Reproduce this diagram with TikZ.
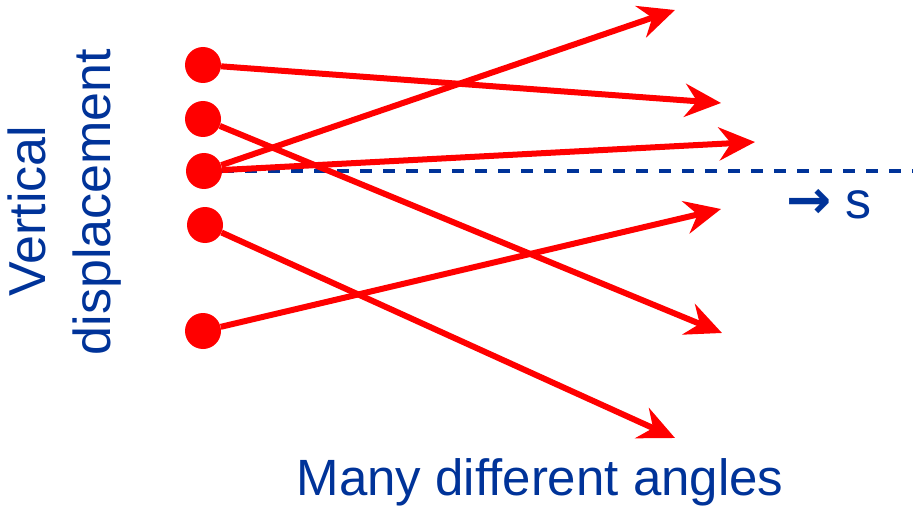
\documentclass[tikz,border=0pt]{standalone}
\usepackage{fontspec}
\setmainfont{Liberation Sans}
\newfontfamily\arrowfont{DejaVu Sans}
\usepackage{xcolor}
\usetikzlibrary{arrows.meta}
\definecolor{dblue}{RGB}{0,51,153}
\tikzset{ray/.style={draw=#1},
  lbl/.style={text=dblue,inner sep=0,font=\fontsize{52}{60}\selectfont}
}

\begin{document}
\begin{tikzpicture}[x=1pt,y=-1pt]
  \useasboundingbox (0,0) rectangle (913,508);
  \begin{scope}[every node/.style={circle,fill=red,inner sep=0,minimum size=36pt}]
    \node (D1) at (203,65) {};
    \node (D2) at (203,119) {};
    \node (D3) at (204,171) {};
    \node (D4) at (205,225) {};
    \node (D5) at (203,331) {};
  \end{scope}
  % where the rays end
  \coordinate (T1) at (675,10);
  \coordinate (T2) at (721,103);
  \coordinate (T3) at (755,142);
  \coordinate (T4) at (721,209);
  \coordinate (T5) at (722,333);
  \coordinate (T6) at (675,438);
  \coordinate (axisend) at (913,171);
  \draw[dblue,line width=3pt,dash pattern=on 12pt off 11pt] (D3.east) -- (axisend);
  \begin{scope}[>={Stealth[length=36pt,width=33pt,inset=12pt]},
                  every edge/.style={draw,line width=6pt}]
        \path [->] (D1) edge[ray=red] (T2);
        \path [->] (D2) edge[ray=red] (T5);
        \path [->] (D3) edge[ray=red] (T1);
        \path [->] (D3) edge[ray=red] (T3);
        \path [->] (D4) edge[ray=red] (T6);
        \path [->] (D5) edge[ray=red] (T4);
  \end{scope}
  \node[lbl,rotate=90,anchor=base] (vert) at (45,211) {Vertical};
  \node[lbl,rotate=90,anchor=base] (disp) at (110,202) {displacement};
  \node[lbl,anchor=base,font=\fontsize{51}{60}\selectfont] (angles) at (540,495) {Many different angles};
  \node[lbl,anchor=base west] (sdir) at (786,218) {{\arrowfont\bfseries\fontsize{54}{60}\selectfont →} s};
\end{tikzpicture}
\end{document}
